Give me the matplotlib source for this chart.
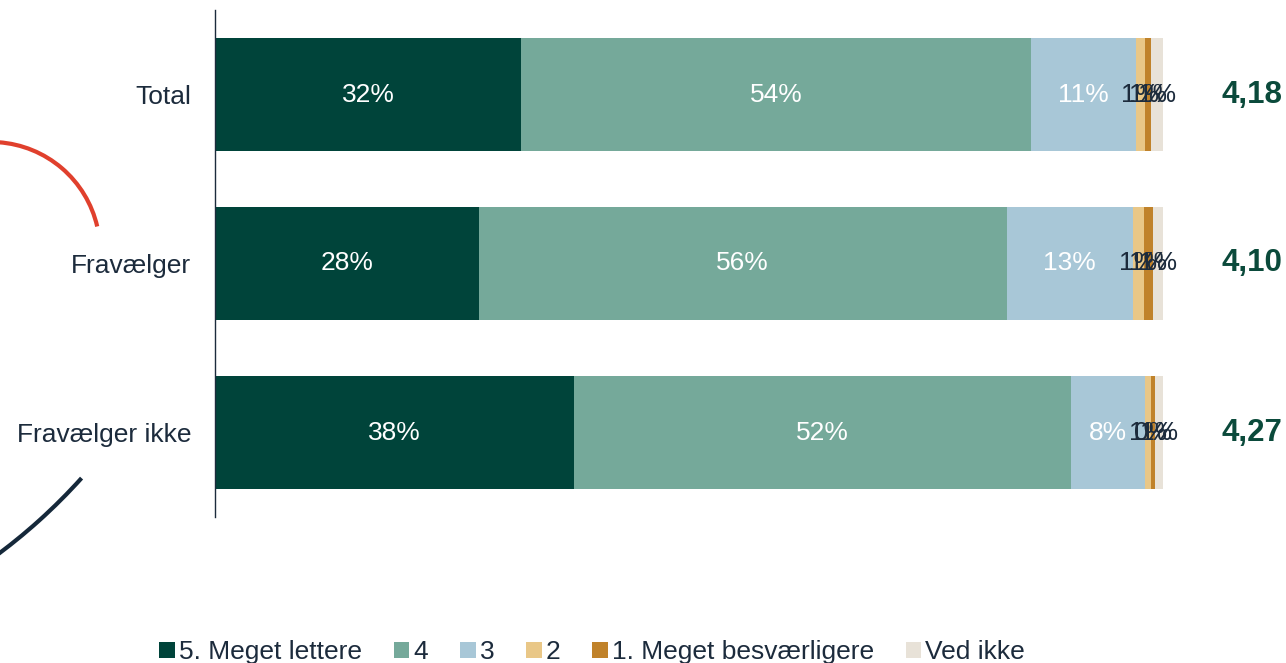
import matplotlib
matplotlib.use("Agg")
import matplotlib.pyplot as plt
from matplotlib.patches import Arc

plt.rcParams['font.family'] = ['Liberation Sans', 'DejaVu Sans']

groups = ['Total', 'Fravælger', 'Fravælger ikke']
answers = ['5. Meget lettere', '4', '3', '2', '1. Meget besværligere', 'Ved ikke']
shares = [
    [32.3, 27.8, 37.9],   # 5. Meget lettere
    [53.8, 55.7, 52.4],   # 4
    [11.0, 13.3, 7.8],    # 3
    [1.0, 1.2, 0.6],      # 2
    [0.6, 0.9, 0.5],      # 1. Meget besværligere
    [1.3, 1.1, 0.8],      # Ved ikke
]
means = [4.18, 4.10, 4.27]

colors = ['#00443a', '#75a99a', '#a8c7d7', '#e9c787', '#c0822a', '#e8e2d8']
label_colors = ['white', 'white', 'white', '#1c2b3c', '#1c2b3c', '#1c2b3c']
navy = '#1c2b3c'

fig = plt.figure(figsize=(12.86, 6.63), dpi=100)
ax = fig.add_axes([215 / 1286, 1 - 517 / 663, 948 / 1286, 507 / 663])

ypos = list(range(len(groups)))
left = [0.0] * len(groups)
for vals, name, col, lcol in zip(shares, answers, colors, label_colors):
    bars = ax.barh(ypos, vals, left=left, height=0.67, color=col, label=name)
    ax.bar_label(bars, labels=[f"{v:.0f}%" for v in vals], label_type='center',
                 color=lcol, fontsize=19)
    left = [a + b for a, b in zip(left, vals)]

# gennemsnit til højre
for y, m in zip(ypos, means):
    ax.text(106.2, y, f"{m:.2f}".replace('.', ','), ha='left', va='center',
            fontsize=22.5, fontweight='bold', color='#0b4a3b', clip_on=False)

ax.set_xlim(0, 100)
ax.set_ylim(2.5, -0.5)
ax.set_yticks(ypos)
ax.set_yticklabels(groups, fontsize=19, color=navy)
ax.tick_params(axis='y', length=0, pad=17)
ax.set_xticks([])
for s in ['top', 'right', 'bottom']:
    ax.spines[s].set_visible(False)
ax.spines['left'].set_color(navy)
ax.spines['left'].set_linewidth(1)

fig.legend(loc='center left', bbox_to_anchor=(146 / 1286, 0.016), ncol=6,
           frameon=False, fontsize=19, handlelength=0.6, handleheight=0.6,
           handletextpad=0.15, columnspacing=1.2, borderpad=0, labelcolor=navy)

# dekorative buer i venstre side
deco = fig.add_axes([0, 0, 1, 1], zorder=-1)
deco.set_xlim(0, 1286)
deco.set_ylim(663, 0)
deco.axis('off')
deco.add_patch(Arc((-9, 251), 218, 218, theta1=-86, theta2=-13,
                   color='#e0402d', lw=3))
deco.add_patch(Arc((-345, 94), 1148, 1148, theta1=42, theta2=54,
                   color='#15283a', lw=3))

fig.savefig('out.png', dpi=100)
